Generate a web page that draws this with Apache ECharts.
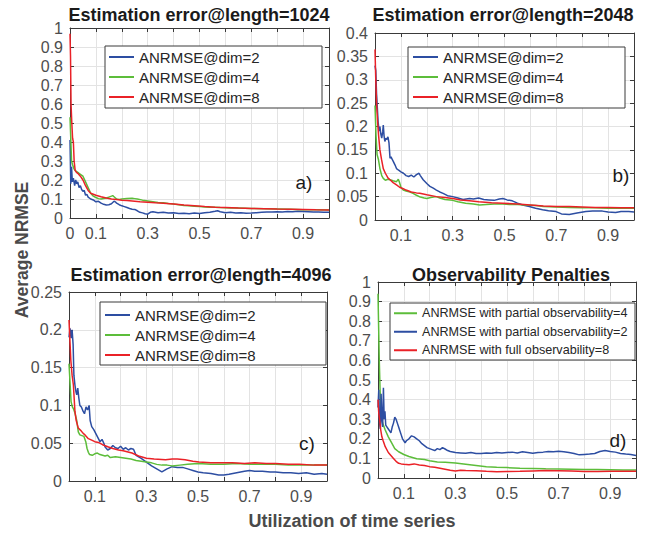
<!DOCTYPE html>
<html>
<head>
<meta charset="utf-8">
<script src="https://cdn.jsdelivr.net/npm/echarts@6/dist/echarts.min.js"></script>
<style>
html,body{margin:0;padding:0;background:#fff;}
#chart{width:654px;height:533px;}
</style>
</head>
<body>
<div id="chart"></div>
<script>
// ---------- DATA ----------
const titles = ['Estimation error@length=1024','Estimation error@length=2048','Estimation error@length=4096','Observability Penalties'];
const panelTags = ['a)','b)','c)','d)'];
const namesABC = ['ANRMSE@dim=2','ANRMSE@dim=4','ANRMSE@dim=8'];
const namesD = ['ANRMSE with partial observability=4','ANRMSE with partial observability=2','ANRMSE with full observability=8'];
const xTickLabelsA = ['0','0.1','0.3','0.5','0.7','0.9'];
const xTickLabelsOther = ['0.1','0.3','0.5','0.7','0.9'];
const yMax = [1, 0.4, 0.25, 1];
const yStep = [0.1, 0.05, 0.05, 0.1];
const yAxisTitle = 'Average NRMSE';
const xAxisTitle = 'Utilization of time series';

const a_dim2 = [[0,0.41],[0.003,0.18],[0.006,0.27],[0.009,0.19],[0.013,0.21],[0.018,0.17],[0.022,0.2],[0.026,0.18],[0.03,0.19],[0.035,0.16],[0.04,0.17],[0.045,0.15],[0.05,0.14],[0.055,0.145],[0.06,0.12],[0.065,0.125],[0.07,0.11],[0.08,0.1],[0.09,0.095],[0.1,0.085],[0.11,0.088],[0.12,0.078],[0.13,0.072],[0.14,0.068],[0.15,0.07],[0.16,0.075],[0.17,0.088],[0.175,0.085],[0.18,0.078],[0.19,0.07],[0.2,0.064],[0.21,0.06],[0.22,0.055],[0.23,0.05],[0.24,0.046],[0.25,0.045],[0.26,0.038],[0.27,0.03],[0.28,0.027],[0.29,0.022],[0.3,0.02],[0.31,0.03],[0.32,0.033],[0.34,0.028],[0.36,0.03],[0.38,0.026],[0.4,0.028],[0.42,0.024],[0.44,0.025],[0.46,0.022],[0.48,0.026],[0.5,0.024],[0.52,0.028],[0.54,0.03],[0.56,0.035],[0.57,0.038],[0.58,0.033],[0.6,0.028],[0.62,0.03],[0.64,0.026],[0.66,0.027],[0.68,0.025],[0.7,0.026],[0.72,0.028],[0.74,0.03],[0.76,0.032],[0.78,0.031],[0.8,0.033],[0.82,0.032],[0.84,0.034],[0.86,0.033],[0.88,0.035],[0.9,0.034],[0.92,0.033],[0.94,0.032],[0.96,0.031],[0.98,0.03],[1,0.03]];
const a_dim4 = [[0,0.53],[0.003,0.42],[0.006,0.3],[0.01,0.28],[0.015,0.26],[0.02,0.25],[0.03,0.24],[0.04,0.23],[0.05,0.22],[0.06,0.19],[0.07,0.16],[0.08,0.13],[0.09,0.115],[0.1,0.108],[0.11,0.102],[0.12,0.1],[0.13,0.103],[0.14,0.105],[0.15,0.11],[0.16,0.115],[0.165,0.118],[0.17,0.112],[0.18,0.1],[0.19,0.098],[0.2,0.1],[0.22,0.102],[0.24,0.104],[0.25,0.102],[0.26,0.1],[0.28,0.094],[0.3,0.09],[0.32,0.086],[0.34,0.082],[0.36,0.08],[0.38,0.076],[0.4,0.074],[0.42,0.07],[0.44,0.066],[0.46,0.064],[0.48,0.062],[0.5,0.06],[0.52,0.058],[0.54,0.056],[0.56,0.057],[0.58,0.055],[0.6,0.054],[0.62,0.053],[0.65,0.052],[0.7,0.05],[0.75,0.049],[0.8,0.048],[0.85,0.046],[0.9,0.044],[0.95,0.043],[1,0.042]];
const a_dim8 = [[0,0.97],[0.002,0.85],[0.004,0.6],[0.007,0.5],[0.01,0.42],[0.013,0.4],[0.016,0.3],[0.02,0.25],[0.025,0.24],[0.03,0.235],[0.04,0.22],[0.05,0.2],[0.06,0.17],[0.07,0.145],[0.08,0.13],[0.09,0.125],[0.1,0.12],[0.11,0.116],[0.12,0.112],[0.14,0.105],[0.16,0.1],[0.18,0.097],[0.2,0.094],[0.22,0.092],[0.24,0.09],[0.27,0.086],[0.3,0.083],[0.33,0.08],[0.36,0.078],[0.4,0.074],[0.44,0.068],[0.48,0.064],[0.52,0.06],[0.56,0.057],[0.6,0.055],[0.65,0.052],[0.7,0.05],[0.75,0.049],[0.8,0.047],[0.85,0.046],[0.9,0.045],[0.95,0.043],[1,0.042]];

const b_dim2 = [[0,0.33],[0.003,0.32],[0.006,0.27],[0.009,0.24],[0.012,0.21],[0.016,0.19],[0.019,0.2],[0.022,0.185],[0.026,0.175],[0.03,0.19],[0.032,0.203],[0.035,0.18],[0.038,0.168],[0.042,0.175],[0.046,0.172],[0.05,0.178],[0.054,0.165],[0.058,0.132],[0.062,0.135],[0.066,0.13],[0.071,0.125],[0.077,0.118],[0.083,0.11],[0.09,0.107],[0.1,0.103],[0.11,0.1],[0.12,0.095],[0.13,0.093],[0.14,0.096],[0.15,0.092],[0.16,0.097],[0.17,0.1],[0.175,0.095],[0.186,0.086],[0.2,0.078],[0.212,0.072],[0.225,0.068],[0.237,0.064],[0.25,0.06],[0.263,0.057],[0.28,0.052],[0.3,0.05],[0.32,0.047],[0.34,0.044],[0.365,0.046],[0.38,0.045],[0.4,0.047],[0.42,0.044],[0.44,0.043],[0.46,0.042],[0.48,0.045],[0.494,0.046],[0.51,0.043],[0.53,0.041],[0.55,0.036],[0.57,0.032],[0.596,0.029],[0.62,0.025],[0.647,0.022],[0.67,0.02],[0.699,0.018],[0.72,0.013],[0.75,0.012],[0.78,0.015],[0.814,0.018],[0.84,0.019],[0.878,0.019],[0.9,0.017],[0.929,0.016],[0.95,0.018],[0.98,0.018],[1,0.017]];
const b_dim4 = [[0,0.245],[0.004,0.18],[0.008,0.14],[0.013,0.13],[0.019,0.11],[0.026,0.095],[0.032,0.089],[0.04,0.085],[0.05,0.087],[0.058,0.086],[0.07,0.084],[0.083,0.082],[0.09,0.087],[0.095,0.08],[0.1,0.07],[0.109,0.064],[0.12,0.062],[0.135,0.06],[0.147,0.057],[0.16,0.053],[0.175,0.049],[0.19,0.047],[0.2,0.046],[0.215,0.048],[0.237,0.05],[0.25,0.047],[0.27,0.044],[0.3,0.042],[0.32,0.039],[0.35,0.036],[0.38,0.034],[0.404,0.032],[0.43,0.033],[0.46,0.034],[0.494,0.034],[0.52,0.033],[0.55,0.033],[0.58,0.032],[0.622,0.031],[0.65,0.029],[0.7,0.028],[0.75,0.027],[0.8,0.026],[0.85,0.026],[0.9,0.025],[0.95,0.025],[1,0.025]];
const b_dim8 = [[0,0.365],[0.003,0.3],[0.006,0.25],[0.01,0.21],[0.014,0.18],[0.019,0.15],[0.025,0.13],[0.032,0.11],[0.04,0.1],[0.05,0.09],[0.058,0.086],[0.07,0.08],[0.083,0.075],[0.095,0.07],[0.109,0.067],[0.12,0.064],[0.14,0.06],[0.16,0.058],[0.173,0.057],[0.2,0.054],[0.237,0.05],[0.27,0.048],[0.3,0.046],[0.33,0.043],[0.365,0.041],[0.4,0.039],[0.45,0.037],[0.494,0.036],[0.55,0.034],[0.6,0.032],[0.65,0.03],[0.7,0.029],[0.75,0.029],[0.8,0.028],[0.85,0.027],[0.9,0.027],[0.95,0.026],[1,0.026]];

const c_dim2 = [[0,0.19],[0.004,0.202],[0.008,0.189],[0.012,0.2],[0.016,0.18],[0.019,0.14],[0.023,0.127],[0.027,0.118],[0.03,0.114],[0.034,0.123],[0.038,0.11],[0.042,0.1],[0.048,0.098],[0.055,0.092],[0.06,0.089],[0.066,0.098],[0.072,0.094],[0.078,0.1],[0.082,0.08],[0.088,0.072],[0.096,0.068],[0.105,0.062],[0.114,0.056],[0.12,0.052],[0.128,0.055],[0.135,0.05],[0.14,0.045],[0.15,0.041],[0.16,0.043],[0.17,0.047],[0.18,0.044],[0.19,0.043],[0.2,0.046],[0.21,0.042],[0.22,0.044],[0.23,0.041],[0.24,0.043],[0.25,0.042],[0.26,0.034],[0.28,0.03],[0.3,0.025],[0.32,0.02],[0.34,0.016],[0.36,0.012],[0.38,0.016],[0.4,0.019],[0.42,0.018],[0.44,0.018],[0.46,0.016],[0.48,0.014],[0.5,0.012],[0.52,0.011],[0.55,0.01],[0.58,0.008],[0.6,0.008],[0.62,0.009],[0.65,0.011],[0.68,0.013],[0.7,0.014],[0.72,0.013],[0.75,0.013],[0.78,0.012],[0.8,0.012],[0.83,0.011],[0.86,0.011],[0.89,0.01],[0.92,0.011],[0.95,0.009],[0.98,0.01],[1,0.009]];
const c_dim4 = [[0,0.155],[0.004,0.13],[0.008,0.105],[0.013,0.098],[0.018,0.095],[0.023,0.09],[0.03,0.08],[0.036,0.065],[0.042,0.061],[0.05,0.06],[0.058,0.059],[0.065,0.052],[0.07,0.043],[0.075,0.038],[0.08,0.035],[0.09,0.034],[0.1,0.036],[0.11,0.037],[0.12,0.035],[0.13,0.034],[0.14,0.033],[0.15,0.034],[0.16,0.031],[0.18,0.032],[0.2,0.031],[0.22,0.03],[0.24,0.029],[0.26,0.027],[0.28,0.026],[0.3,0.025],[0.32,0.024],[0.34,0.022],[0.36,0.021],[0.38,0.021],[0.4,0.02],[0.43,0.021],[0.46,0.022],[0.5,0.023],[0.55,0.022],[0.6,0.022],[0.65,0.023],[0.7,0.022],[0.75,0.022],[0.8,0.022],[0.85,0.021],[0.9,0.021],[0.95,0.021],[1,0.021]];
const c_dim8 = [[0,0.213],[0.003,0.19],[0.007,0.16],[0.012,0.14],[0.017,0.127],[0.023,0.092],[0.028,0.08],[0.036,0.07],[0.045,0.067],[0.055,0.063],[0.062,0.061],[0.075,0.056],[0.088,0.054],[0.1,0.052],[0.114,0.051],[0.13,0.048],[0.153,0.045],[0.17,0.043],[0.192,0.041],[0.21,0.04],[0.244,0.037],[0.27,0.033],[0.3,0.03],[0.33,0.029],[0.374,0.028],[0.4,0.029],[0.42,0.029],[0.45,0.028],[0.48,0.026],[0.504,0.025],[0.55,0.024],[0.6,0.024],[0.634,0.024],[0.68,0.023],[0.72,0.024],[0.764,0.023],[0.8,0.023],[0.85,0.022],[0.894,0.022],[0.95,0.021],[1,0.021]];

const d_partial4 = [[0,0.94],[0.002,0.8],[0.005,0.6],[0.008,0.45],[0.012,0.32],[0.018,0.28],[0.028,0.245],[0.04,0.21],[0.054,0.177],[0.065,0.15],[0.08,0.134],[0.1,0.12],[0.12,0.11],[0.15,0.098],[0.18,0.094],[0.2,0.088],[0.23,0.082],[0.26,0.08],[0.3,0.076],[0.34,0.07],[0.38,0.064],[0.42,0.058],[0.46,0.055],[0.5,0.053],[0.55,0.05],[0.6,0.049],[0.65,0.047],[0.7,0.046],[0.75,0.045],[0.8,0.044],[0.85,0.043],[0.9,0.042],[0.95,0.041],[1,0.041]];
const d_partial2 = [[0,0.36],[0.003,0.45],[0.006,0.28],[0.009,0.25],[0.012,0.43],[0.015,0.3],[0.018,0.26],[0.021,0.46],[0.024,0.3],[0.027,0.34],[0.03,0.27],[0.035,0.26],[0.04,0.25],[0.045,0.24],[0.05,0.23],[0.055,0.26],[0.06,0.28],[0.065,0.31],[0.07,0.3],[0.075,0.28],[0.08,0.26],[0.085,0.24],[0.09,0.22],[0.095,0.2],[0.1,0.19],[0.105,0.18],[0.11,0.19],[0.12,0.2],[0.13,0.215],[0.14,0.21],[0.15,0.2],[0.16,0.19],[0.17,0.175],[0.18,0.165],[0.19,0.155],[0.2,0.15],[0.21,0.145],[0.22,0.14],[0.23,0.15],[0.24,0.145],[0.25,0.155],[0.26,0.148],[0.27,0.14],[0.28,0.135],[0.3,0.13],[0.32,0.128],[0.34,0.126],[0.36,0.13],[0.38,0.125],[0.4,0.125],[0.42,0.128],[0.44,0.126],[0.46,0.13],[0.48,0.128],[0.5,0.13],[0.52,0.132],[0.54,0.128],[0.56,0.134],[0.58,0.13],[0.6,0.126],[0.62,0.13],[0.64,0.132],[0.66,0.135],[0.68,0.134],[0.7,0.136],[0.72,0.134],[0.74,0.13],[0.76,0.125],[0.78,0.118],[0.8,0.12],[0.82,0.122],[0.84,0.125],[0.86,0.135],[0.88,0.14],[0.9,0.135],[0.92,0.132],[0.94,0.125],[0.96,0.122],[0.98,0.12],[1,0.115]];
const d_full8 = [[0,0.4],[0.003,0.33],[0.006,0.3],[0.01,0.25],[0.015,0.21],[0.02,0.19],[0.028,0.16],[0.04,0.13],[0.05,0.115],[0.06,0.1],[0.07,0.085],[0.08,0.075],[0.09,0.072],[0.1,0.07],[0.12,0.068],[0.14,0.072],[0.16,0.066],[0.18,0.064],[0.2,0.058],[0.22,0.055],[0.24,0.05],[0.26,0.045],[0.28,0.04],[0.3,0.036],[0.32,0.04],[0.34,0.038],[0.38,0.037],[0.42,0.034],[0.46,0.032],[0.5,0.033],[0.55,0.034],[0.6,0.036],[0.65,0.038],[0.7,0.037],[0.75,0.036],[0.8,0.033],[0.85,0.033],[0.9,0.034],[0.95,0.035],[1,0.035]];

// ---------- STYLE / LAYOUT ----------
const BLUE = '#2d4ea2', GREEN = '#5cbd3a', RED = '#ea2127';
const FONT = '"Liberation Sans", Arial, Helvetica, sans-serif';
const grids = [
  {left:70, top:28, width:259, height:190},
  {left:375, top:33, width:259, height:187},
  {left:69, top:292, width:258, height:189},
  {left:378, top:282, width:258, height:196}
];
const legendPos = [
  {box:[105,46,217,62], left:109, top:47, fs:15, rowH:20, iw:25},
  {box:[408,47,217,61], left:413, top:47, fs:15, rowH:20, iw:25},
  {box:[100,302,226,63], left:105, top:305, fs:15, rowH:20, iw:25},
  {box:[390,303,245,57], left:394, top:304, fs:12.6, rowH:18.5, iw:23}
];
const tagPos = [[304,182],[621,175],[307,443],[618,440]];
const titlePos = [[199,15],[503,15],[201,275],[511,275]];

const panelSeries = [
  [[namesABC[0], a_dim2, BLUE],[namesABC[1], a_dim4, GREEN],[namesABC[2], a_dim8, RED]],
  [[namesABC[0], b_dim2, BLUE],[namesABC[1], b_dim4, GREEN],[namesABC[2], b_dim8, RED]],
  [[namesABC[0], c_dim2, BLUE],[namesABC[1], c_dim4, GREEN],[namesABC[2], c_dim8, RED]],
  [[namesD[0], d_partial4, GREEN],[namesD[1], d_partial2, BLUE],[namesD[2], d_full8, RED]]
];

const AX = '#3a3a3a', LBL = '#4d4d4d', GRIDC = '#e3e3e3';
const fmt = v => String(Math.round(v * 1000) / 1000);

const xAxes = [], yAxes = [], series = [], legends = [], graphics = [];
grids.forEach((g, i) => {
  const xl = i === 0 ? xTickLabelsA : xTickLabelsOther;
  xAxes.push({
    gridIndex: i, type: 'value', min: 0, max: 1, interval: 0.1, position: 'bottom',
    axisLine: {show: true, onZero: false, lineStyle: {color: AX, width: 1}},
    axisTick: {show: true, inside: true, length: 4, lineStyle: {color: AX}},
    axisLabel: {color: LBL, fontSize: 16, fontFamily: FONT, margin: 7,
      formatter: v => { const s = fmt(v); return xl.indexOf(s) >= 0 ? s : ''; }},
    splitLine: {show: true, lineStyle: {color: GRIDC, width: 1}}
  });
  xAxes.push({
    gridIndex: i, type: 'value', min: 0, max: 1, interval: 0.1, position: 'top',
    axisLine: {show: true, onZero: false, lineStyle: {color: AX, width: 1}},
    axisTick: {show: true, inside: true, length: 4, lineStyle: {color: AX}},
    axisLabel: {show: false}, splitLine: {show: false}
  });
  yAxes.push({
    gridIndex: i, type: 'value', min: 0, max: yMax[i], interval: yStep[i], position: 'left',
    axisLine: {show: true, onZero: false, lineStyle: {color: AX, width: 1}},
    axisTick: {show: true, inside: true, length: 4, lineStyle: {color: AX}},
    axisLabel: {color: LBL, fontSize: 16, fontFamily: FONT, margin: 7, formatter: v => fmt(v)},
    splitLine: {show: true, lineStyle: {color: GRIDC, width: 1}}
  });
  yAxes.push({
    gridIndex: i, type: 'value', min: 0, max: yMax[i], interval: yStep[i], position: 'right',
    axisLine: {show: true, onZero: false, lineStyle: {color: AX, width: 1}},
    axisTick: {show: true, inside: true, length: 4, lineStyle: {color: AX}},
    axisLabel: {show: false}, splitLine: {show: false}
  });
  panelSeries[i].forEach(s => {
    series.push({
      type: 'line', name: s[0], data: s[1], xAxisIndex: 2 * i, yAxisIndex: 2 * i,
      showSymbol: false, symbol: 'none', smooth: false, color: s[2],
      lineStyle: {color: s[2], width: 1.5}, z: 2, animation: false
    });
  });
  const L = legendPos[i];
  legends.push({
    orient: 'vertical', left: L.left, top: L.top, padding: 0, itemGap: 0,
    itemWidth: L.iw, itemHeight: 2, icon: 'rect', z: 10,
    data: panelSeries[i].map(s => s[0]),
    textStyle: {fontSize: L.fs, fontFamily: FONT, color: '#262626', lineHeight: L.rowH, padding: [0,0,0,0]},
    selectedMode: false
  });
  graphics.push({
    type: 'rect', z: 8, shape: {x: L.box[0], y: L.box[1], width: L.box[2], height: L.box[3]},
    style: {fill: '#fff', stroke: '#3a3a3a', lineWidth: 1}
  });
  graphics.push({
    type: 'text', z: 9, x: tagPos[i][0], y: tagPos[i][1],
    style: {text: panelTags[i], font: '19px ' + FONT, fill: '#1a1a1a', textAlign: 'center', textVerticalAlign: 'middle'}
  });
  graphics.push({
    type: 'text', z: 9, x: titlePos[i][0], y: titlePos[i][1],
    style: {text: titles[i], font: 'bold 18px ' + FONT, fill: '#1a1a1a', textAlign: 'center', textVerticalAlign: 'middle'}
  });
});
graphics.push({
  type: 'text', z: 9, x: 22, y: 250, rotation: Math.PI / 2,
  style: {text: yAxisTitle, font: 'bold 17.5px ' + FONT, fill: '#4a4a4a', textAlign: 'center', textVerticalAlign: 'middle'}
});
graphics.push({
  type: 'text', z: 9, x: 352, y: 521,
  style: {text: xAxisTitle, font: 'bold 18px ' + FONT, fill: '#4a4a4a', textAlign: 'center', textVerticalAlign: 'middle'}
});

const chart = echarts.init(document.getElementById('chart'), null, {renderer: 'svg'});
chart.setOption({
  animation: false,
  backgroundColor: '#fff',
  grid: grids,
  xAxis: xAxes,
  yAxis: yAxes,
  legend: legends,
  series: series,
  graphic: graphics
});
</script>
</body>
</html>
